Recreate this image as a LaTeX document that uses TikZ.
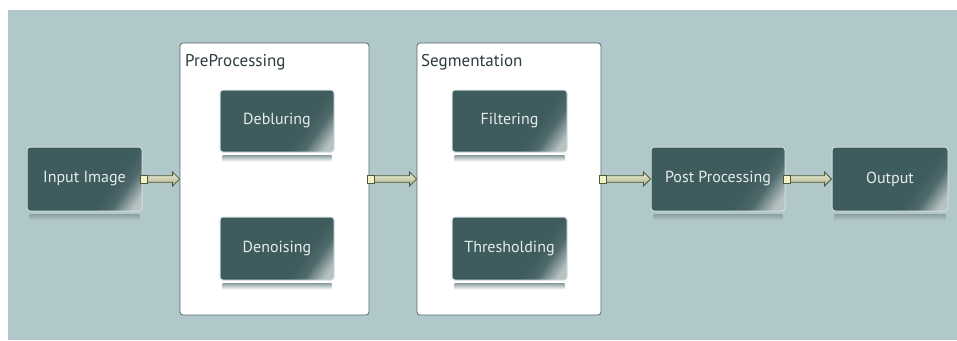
\documentclass[tikz,border=0pt]{standalone}
\usepackage{fontspec}
\setmainfont{PT Sans}
\usetikzlibrary{calc}
\definecolor{bgcol}{HTML}{B0C8CA}
\definecolor{boxdark}{HTML}{3E5B5D}
\definecolor{boxmid}{HTML}{506A6C}
\definecolor{boxlight}{HTML}{B6C2C2}
\definecolor{boxedge}{HTML}{D4DEDE}
\definecolor{contedge}{HTML}{56686A}
\definecolor{titlecol}{HTML}{2C3C3E}
\definecolor{txtcol}{HTML}{E6ECEC}
\definecolor{arrdark}{HTML}{4E5838}
\definecolor{arrtop}{HTML}{ECEDD6}
\definecolor{arrbot}{HTML}{AEB28A}
\definecolor{sqcol}{HTML}{F4F2C8}
\definecolor{reflcol}{HTML}{8FA2A4}
\pgfdeclarehorizontalshading{gloss}{100bp}{color(0bp)=(boxdark); color(64bp)=(boxdark); color(71bp)=(boxmid); color(80bp)=(boxlight); color(100bp)=(boxlight)}
\tikzset{
  procbox/.style={rectangle, rounded corners=3pt, draw=boxedge, line width=1pt,
    shading=gloss, shading angle=-35, text=txtcol, font=\fontsize{16}{19}\selectfont,
    inner sep=0pt},
  container/.style={rectangle, rounded corners=3pt, draw=contedge, line width=0.8pt,
    fill=white, inner sep=0pt},
  ctitle/.style={anchor=west, text=titlecol, font=\fontsize{17}{20}\selectfont, inner sep=0pt},
  flowarrow/.style={draw=arrdark, line width=0.8pt, top color=arrtop, bottom color=arrbot, line join=miter},
  startsq/.style={fill=sqcol, draw=arrdark, line width=0.5pt}
}
\newcommand{\reflect}[2]{% node, bottom colour
  \shade[top color=reflcol, bottom color=#2]
    ($(#1.south west)+(3,3)$) rectangle ($(#1.south east)+(-3,9)$);}
\newcommand{\flow}[2]{%
  \draw[flowarrow] ($(#1.east)+(0,-3.2)$) -- ($(#2.west)+(-7,-3.2)$) -- ($(#2.west)+(-7,-7)$)
    -- (#2.west) -- ($(#2.west)+(-7,7)$) -- ($(#2.west)+(-7,3.2)$) -- ($(#1.east)+(0,3.2)$) -- cycle;
  \draw[startsq] ($(#1.east)+(-2.5,-4)$) rectangle ($(#1.east)+(5,4)$);}
\begin{document}
\begin{tikzpicture}[x=1pt,y=-1pt]
\useasboundingbox (0,0) rectangle (957,340);
\fill[white] (0,0) rectangle (957,340);
\fill[bgcol] (8,10) rectangle (957,340);

% containers
\node[container, minimum width=189pt, minimum height=272pt] (pre) at (274.5,179) {};
\node[container, minimum width=184pt, minimum height=272pt] (seg) at (509,179) {};
\node[ctitle] (pretitle) at (185,62) {PreProcessing};
\node[ctitle] (segtitle) at (421,62) {Segmentation};

% process boxes
\node[procbox, minimum width=115pt, minimum height=64pt] (in) at (84.5,179) {Input Image};
\node[procbox, minimum width=114pt, minimum height=62pt] (deb) at (277,121) {Debluring};
\node[procbox, minimum width=114pt, minimum height=63pt] (den) at (277,248.5) {Denoising};
\node[procbox, minimum width=115pt, minimum height=62pt] (fil) at (509.5,121) {Filtering};
\node[procbox, minimum width=115pt, minimum height=63pt] (thr) at (509.5,248.5) {Thresholding};
\node[procbox, minimum width=134pt, minimum height=64pt] (post) at (718,179) {Post Processing};
\node[procbox, minimum width=116pt, minimum height=64pt] (out) at (890,179) {Output};

% reflections
\reflect{in}{bgcol}
\reflect{post}{bgcol}
\reflect{out}{bgcol}
\reflect{deb}{white}
\reflect{den}{white}
\reflect{fil}{white}
\reflect{thr}{white}

% connectors
\flow{in}{pre}
\flow{pre}{seg}
\flow{seg}{post}
\flow{post}{out}
\end{tikzpicture}
\end{document}
